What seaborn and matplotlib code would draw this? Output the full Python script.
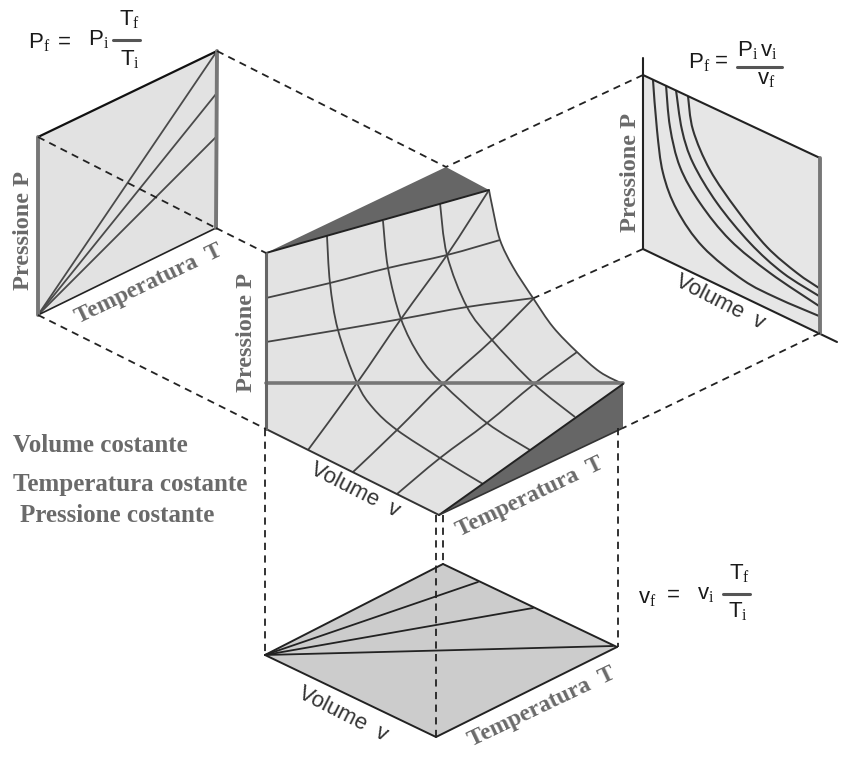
import matplotlib
matplotlib.use("Agg")
import matplotlib.pyplot as plt
from matplotlib.path import Path
from matplotlib.patches import PathPatch
import seaborn as sns

sns.set_theme(style="white")
plt.rcParams['font.family'] = ['Liberation Sans', 'DejaVu Sans']
plt.rcParams['mathtext.fontset'] = 'custom'
plt.rcParams['mathtext.rm'] = 'Liberation Serif'
plt.rcParams['mathtext.bf'] = 'Liberation Serif:bold'

# ---- readings from the picture (image pixel scale) ----
# main surface
surf_A = (266, 253); surf_back = (446, 167); surf_C = (489, 190)
surf_D = (623, 384); surf_E = (623, 428); surf_F = (439, 515); surf_G = (266, 429)
edge_x = [489, 493, 500, 513, 533, 553, 577, 600, 623]
edge_y = [190, 210, 240, 267, 298, 327, 352, 372, 384]
iso_v1_x = [327, 330, 338, 357, 373, 397, 440, 483]
iso_v1_y = [236, 283, 330, 383, 408, 430, 458, 484]
iso_v2_x = [383, 388, 401, 420, 443, 487, 530]
iso_v2_y = [221, 268, 319, 357, 384, 423, 450]
iso_v3_x = [440, 447, 467, 492, 534, 575]
iso_v3_y = [203, 255, 307, 340, 384, 417]
cross1_x = [266, 330, 388, 447, 500]
cross1_y = [298, 283, 268, 255, 240]
cross2_x = [266, 338, 401, 467, 534]
cross2_y = [342, 330, 319, 307, 298]
level_x = [266, 623]
level_y = [383, 383]
diag1_x = [308, 357, 401, 447, 489]
diag1_y = [450, 383, 319, 255, 190]
diag2_x = [353, 397, 443, 492, 534]
diag2_y = [472, 430, 384, 340, 298]
diag3_x = [397, 440, 487, 534, 577]
diag3_y = [494, 458, 423, 384, 352]

# left panel
left_TL = (38, 137); left_TR = (217, 51); left_BR = (216, 228); left_BL = (38, 315)
left_ends_x = [217, 216, 216]
left_ends_y = [51, 94, 137]

# right panel
right_TL = (643, 75); right_TR = (820, 158); right_BR = (820, 333); right_BL = (643, 249)
rc1_x = [653, 657, 663, 677, 703, 743, 777, 819]
rc1_y = [80, 130, 173, 210, 247, 280, 298, 316]
rc2_x = [666, 670, 680, 700, 730, 770, 819]
rc2_y = [85, 127, 167, 203, 240, 273, 306]
rc3_x = [676, 682, 693, 717, 750, 783, 819]
rc3_y = [90, 130, 163, 203, 243, 273, 296]
rc4_x = [688, 693, 710, 737, 767, 797, 819]
rc4_y = [96, 130, 170, 210, 247, 273, 288]

# bottom panel
bot_L = (265, 655); bot_T = (443, 564); bot_R = (617, 647); bot_B = (436, 737)
bot_ends_x = [478, 533, 613]
bot_ends_y = [582, 608, 646]

# dashed projection lines
dash_segments = [
    ((217, 51), (446, 167)), ((38, 137), (216, 228)), ((216, 228), (266, 253)),
    ((38, 315), (266, 429)), ((643, 75), (446, 167)), ((643, 249), (534, 298)),
    ((820, 333), (623, 428)), ((265, 429), (265, 655)), ((436, 515), (436, 737)),
    ((443, 515), (443, 564)), ((618, 428), (618, 647)),
]

# texts
state_labels = ['Volume costante', 'Temperatura costante', 'Pressione costante']
state_x = [13, 13, 20]
state_y = [445, 484, 516]
pressure_x = [24, 247, 631]
pressure_y = [230, 333, 172]
temperature_x = [149, 530, 542]
temperature_y = [284, 497, 707]
volume_x = [355, 720, 343]
volume_y = [490, 302, 714]

SERIF = 'Liberation Serif'
SANS = 'Liberation Sans'
GREY = '#6a6a6a'
LINE = '#3a3a3a'

fig, ax = plt.subplots(figsize=(8.5, 7.62), dpi=100)
fig.subplots_adjust(0, 0, 1, 1)


def line(xs, ys, color=LINE, lw=1.4, ls='-', z=3):
    sns.lineplot(x=list(xs), y=list(ys), sort=False, estimator=None, ax=ax,
                 color=color, linewidth=lw, linestyle=ls, zorder=z, legend=False)


def seg(a, b, **kw):
    line([a[0], b[0]], [a[1], b[1]], **kw)


def smooth(xs, ys, color='#444444', lw=1.3, z=3):
    """Stroke a curve through the read points with Bezier segments."""
    pts = list(zip(xs, ys))
    verts = [pts[0]]
    codes = [Path.MOVETO]
    n = len(pts)
    for i in range(n - 1):
        p0 = pts[max(i - 1, 0)]
        p1 = pts[i]
        p2 = pts[i + 1]
        p3 = pts[min(i + 2, n - 1)]
        c1 = (p1[0] + (p2[0] - p0[0]) / 6, p1[1] + (p2[1] - p0[1]) / 6)
        c2 = (p2[0] - (p3[0] - p1[0]) / 6, p2[1] - (p3[1] - p1[1]) / 6)
        verts += [c1, c2, p2]
        codes += [Path.CURVE4] * 3
    ax.add_patch(PathPatch(Path(verts, codes), fill=False, edgecolor=color, linewidth=lw, zorder=z))


def poly(points, color):
    ax.fill([p[0] for p in points], [p[1] for p in points], color=color, lw=0, zorder=1)


# left panel
poly([left_TL, left_TR, left_BR, left_BL], '#e2e2e2')
for ex, ey in zip(left_ends_x, left_ends_y):
    seg(left_BL, (ex, ey), color='#4a4a4a', lw=1.3)
seg(left_TL, left_TR, color='#111111', lw=1.6)
seg(left_BL, left_BR, color='#222222', lw=1.2)
seg(left_TL, left_BL, color='#777777', lw=2.8)
seg(left_TR, left_BR, color='#777777', lw=2.8)

# right panel
poly([right_TL, right_TR, right_BR, right_BL], '#e6e6e6')
for cx, cy in [(rc1_x, rc1_y), (rc2_x, rc2_y), (rc3_x, rc3_y), (rc4_x, rc4_y)]:
    smooth(cx, cy, color='#333333', lw=1.5)
seg((643, 58), right_BL, color='#222222', lw=1.5)
seg(right_TL, right_TR, color='#222222', lw=1.5)
seg(right_BL, (837, 342), color='#222222', lw=1.5)
seg(right_TR, right_BR, color='#777777', lw=2.8)

# main surface
poly([surf_A, surf_C] + list(zip(edge_x, edge_y)) + [surf_F, surf_G], '#e3e3e3')
poly([surf_A, surf_back, surf_C], '#666666')
poly([surf_F, surf_D, surf_E], '#666666')
for cx, cy in [(iso_v1_x, iso_v1_y), (iso_v2_x, iso_v2_y), (iso_v3_x, iso_v3_y),
               (cross1_x, cross1_y), (cross2_x, cross2_y),
               (diag1_x, diag1_y), (diag2_x, diag2_y), (diag3_x, diag3_y),
               (edge_x, edge_y)]:
    smooth(cx, cy)
line(level_x, level_y, color='#777777', lw=2.6)
seg(surf_A, surf_C, color='#222222', lw=1.4)
seg(surf_F, surf_D, color='#222222', lw=1.4)
seg(surf_F, surf_G, color='#333333', lw=1.4)
seg(surf_F, surf_E, color='#333333', lw=1.2)
seg(surf_A, surf_G, color='#666666', lw=2.2)

# bottom panel
poly([bot_L, bot_T, bot_R, bot_B], '#cccccc')
for ex, ey in zip(bot_ends_x, bot_ends_y):
    seg(bot_L, (ex, ey), color='#222222', lw=1.3)
for a, b in [(bot_L, bot_T), (bot_T, bot_R), (bot_R, bot_B), (bot_B, bot_L)]:
    seg(a, b, color='#222222', lw=1.4)

# dashed projections
for a, b in dash_segments:
    seg(a, b, color='#222222', lw=1.3, ls=(0, (4, 3)), z=4)


# text
def label(x, y, s, rot=0, size=17.5, fam=SERIF, weight='bold', color=GREY, ha='center', va='center'):
    ax.text(x, y, s, rotation=rot, rotation_mode='anchor', ha=ha, va=va,
            fontsize=size, family=fam, weight=weight, color=color, zorder=5)


for x, y, s in zip(state_x, state_y, state_labels):
    label(x, y, s, size=18, ha='left')
for x, y in zip(pressure_x, pressure_y):
    label(x, y, 'Pressione P', rot=90)
for x, y in zip(temperature_x, temperature_y):
    label(x, y, 'Temperatura  T', rot=25.5, size=17)
for x, y in zip(volume_x, volume_y):
    label(x, y, 'Volume  v', rot=-27, size=16, fam=SANS, weight='normal', color='#333333')

EQ = 16
eq_terms = [
    (r'$\mathregular{P}_{\mathrm{f}}$', 28, 48), (r'$\mathregular{P}_{\mathrm{i}}$', 88, 45),
    (r'$\mathregular{T}_{\mathrm{f}}$', 119, 25), (r'$\mathregular{T}_{\mathrm{i}}$', 120, 65),
    (r'$\mathregular{P}_{\mathrm{f}}$', 688, 68), (r'$\mathregular{P}_{\mathrm{i}}$', 737, 56),
    (r'$\mathregular{v}_{\mathrm{i}}$', 760, 56), (r'$\mathregular{v}_{\mathrm{f}}$', 757, 84),
    (r'$\mathregular{v}_{\mathrm{f}}$', 638, 603), (r'$\mathregular{v}_{\mathrm{i}}$', 697, 599),
    (r'$\mathregular{T}_{\mathrm{f}}$', 729, 579), (r'$\mathregular{T}_{\mathrm{i}}$', 728, 617),
]
eq_signs_x = [64, 721, 673]
eq_signs_y = [42, 61, 595]
fraction_bars = [((113, 40), (140, 40)), ((737, 67), (782, 67)), ((723, 594), (750, 594))]
for s, x, y in eq_terms:
    label(x, y, s, size=EQ, fam=SANS, weight='normal', color='#1a1a1a', ha='left', va='baseline')
for x, y in zip(eq_signs_x, eq_signs_y):
    label(x, y, '=', size=EQ, fam=SANS, weight='normal', color='#1a1a1a')
for a, b in fraction_bars:
    seg(a, b, color='#555555', lw=2.2)

ax.set_xlim(0, 850)
ax.set_ylim(762, 0)
ax.axis('off')
fig.savefig('out.png', dpi=100, facecolor='white')
